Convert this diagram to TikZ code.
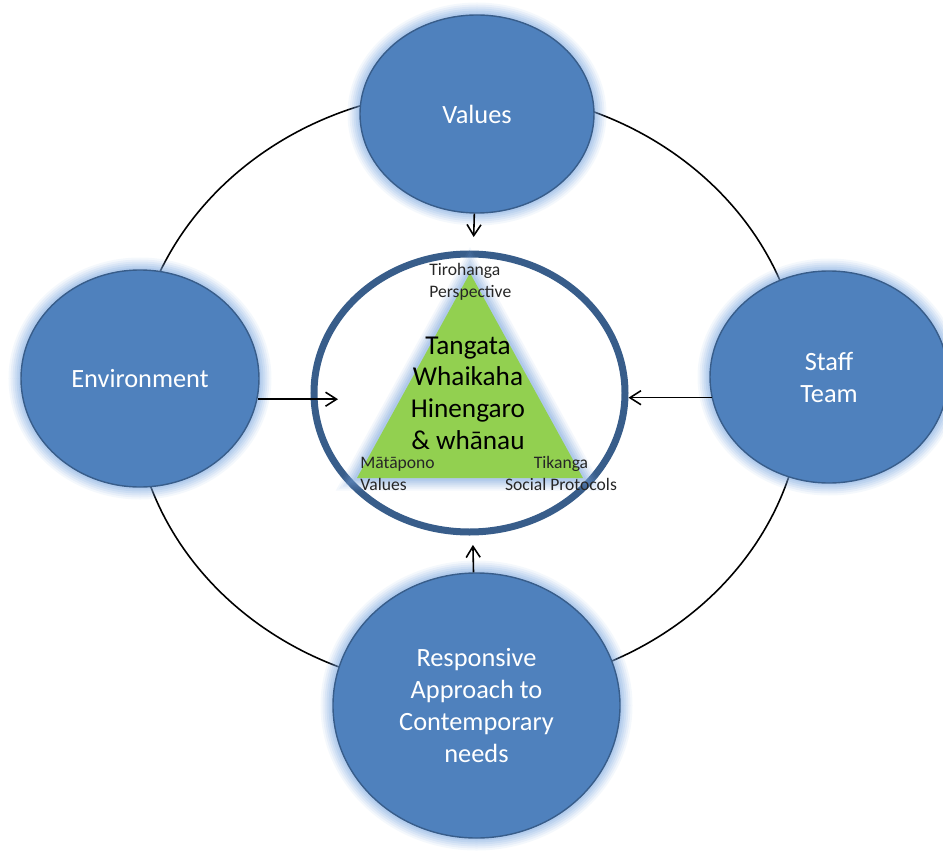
\documentclass[tikz,border=0pt]{standalone}
\usepackage{fontspec}
\setmainfont{Carlito}
\usetikzlibrary{shapes.geometric,arrows.meta}
\definecolor{blue1}{RGB}{79,129,189}
\definecolor{blue2}{RGB}{56,93,138}
\definecolor{halo}{RGB}{120,165,222}
\definecolor{leaf}{RGB}{146,208,80}

\begin{document}
\begin{tikzpicture}[
    glow/.style={
      preaction={draw=halo, line width=0.50cm, draw opacity=0.08},
      preaction={draw=halo, line width=0.42cm, draw opacity=0.10},
      preaction={draw=halo, line width=0.34cm, draw opacity=0.12},
      preaction={draw=halo, line width=0.26cm, draw opacity=0.14},
      preaction={draw=halo, line width=0.18cm, draw opacity=0.16},
      preaction={draw=halo, line width=0.10cm, draw opacity=0.18}
    },
    pillar/.style={
      ellipse,
      glow,
      fill=blue1,
      draw=blue2,
      line width=0.8pt,
      text=white,
      align=center,
      inner sep=0pt,
      font=\fontsize{15}{18.2}\selectfont
    },
    core/.style={ellipse, draw=blue2, line width=0.14cm, fill=white, inner sep=0pt},
    orbit/.style={draw=black, line width=0.9pt},
    feed/.style={-{Straight Barb[length=2.2mm,width=2.8mm]}, line width=0.9pt},
    corner/.style={align=left, inner sep=0pt, font=\fontsize{10}{12.5}\selectfont, text=black!85}
  ]

  \useasboundingbox (-9.4,-9.14) rectangle (9.46,7.86);

  \draw[orbit] (-0.04,0.06) ellipse [x radius=6.7, y radius=6.0];

  \node (values) at (0.14,5.58) [pillar, minimum width=4.68cm, minimum height=3.96cm] {Values};
  \node (env) at (-6.6,0.29) [pillar, minimum width=4.76cm, minimum height=4.34cm] {Environment};
  \node (staff) at (7.18,0.32) [pillar, minimum width=4.76cm, minimum height=4.24cm] {Staff\\Team};
  \node (resp) at (0.13,-6.25) [pillar, minimum width=5.74cm, minimum height=5.3cm] {Responsive\\Approach to\\Contemporary\\needs};

  \node (hub) at (-0.01,0) [core, minimum width=6.22cm, minimum height=5.56cm] {};

  \coordinate (apex) at (0,2.4);
  \coordinate (lcorner) at (-2.26,-1.7);
  \coordinate (rcorner) at (2.26,-1.7);
  \fill[leaf, glow, line join=round] (apex) -- (lcorner) -- (rcorner) -- cycle;

  \node (people) at (-0.04,0) [align=center, inner sep=0pt, font=\fontsize{15.5}{18}\selectfont] {Tangata\\Whaikaha\\Hinengaro\\\& whānau};

  \node (tiro) at (-0.82,2.6) [corner, anchor=north west] {Tirohanga\\Perspective};
  \node (mata) at (-2.2,-1.27) [corner, anchor=north west] {Mātāpono\\Values};
  \node (tika) at (1.82,-1.25) [corner, anchor=north, align=center] {Tikanga\\Social Protocols};

  \draw[feed, shorten >=0.27cm] (values) -- (hub);
  \draw[feed, shorten >=0.19cm] (resp) -- (hub);
  \draw[feed] (env.-10) -- ([xshift=0.55cm]env.-10 -| hub.west);
  \draw[feed] (staff.190) -- (staff.190 -| hub.east);

\end{tikzpicture}
\end{document}
